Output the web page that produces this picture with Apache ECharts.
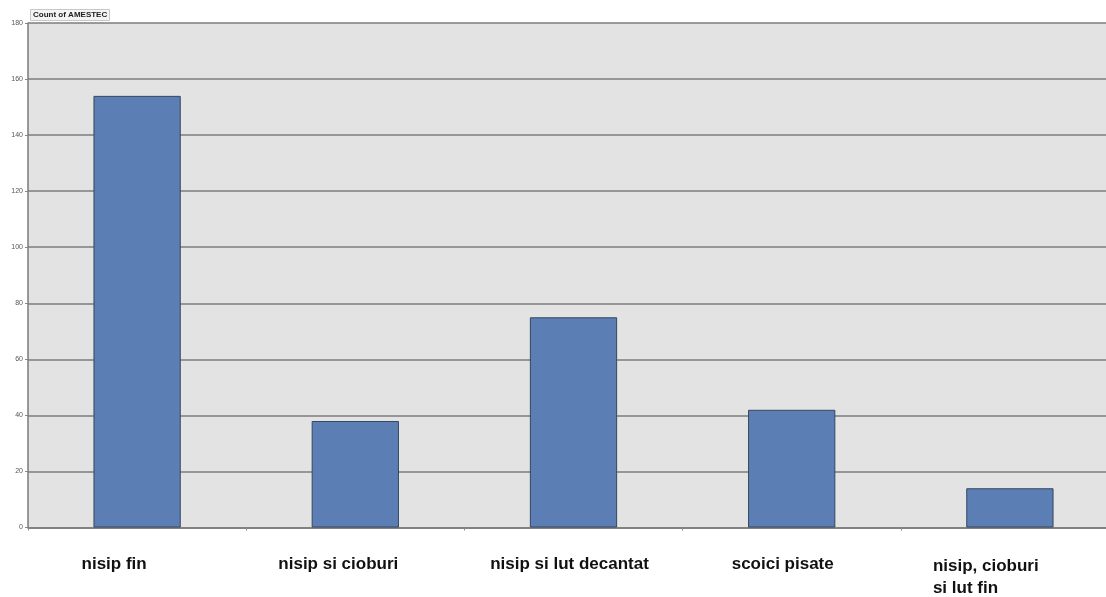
<!DOCTYPE html>
<html>
<head>
<meta charset="utf-8">
<script src="https://cdn.jsdelivr.net/npm/echarts@6/dist/echarts.min.js"></script>
<style>
html,body{margin:0;padding:0;background:#fff;overflow:hidden;width:1106px;height:597px;}
#chart{width:1120px;height:597px;}
</style>
</head>
<body>
<div id="chart"></div>
<script>
const categories = ["nisip fin", "nisip si cioburi", "nisip si lut decantat", "scoici pisate", "nisip, cioburi\nsi lut fin"];
const counts = [154, 38, 75, 42, 14];
const fieldTitle = "Count of AMESTEC";

const labelFont = {fontFamily: 'Liberation Sans', fontSize: 17, fontWeight: 'bold', color: '#111'};
const chart = echarts.init(document.getElementById('chart'), null, {renderer: 'canvas'});
chart.setOption({
  animation: false,
  backgroundColor: '#ffffff',
  title: {
    text: fieldTitle,
    left: 30, top: 9,
    padding: [2, 3, 2, 3],
    backgroundColor: '#f4f4f4',
    borderColor: '#c8c8c8',
    borderWidth: 1,
    textStyle: {fontFamily: 'Liberation Sans', fontSize: 8, fontWeight: 'bold', color: '#222'}
  },
  grid: {left: 28, top: 23, width: 1091, height: 507, show: true, backgroundColor: '#e3e3e3', borderWidth: 0},
  xAxis: {
    type: 'category',
    data: categories,
    axisLine: {lineStyle: {color: '#7a7a7a', width: 1.5}},
    axisTick: {show: true, length: 3, lineStyle: {color: '#888'}},
    axisLabel: {
      margin: 28,
      interval: 0,
      formatter: function (v, i) { return '{c' + i + '|' + v + '}'; },
      rich: {
        c0: Object.assign({}, labelFont, {padding: [0, 46, 0, 0]}),
        c1: Object.assign({}, labelFont, {padding: [0, 34, 0, 0]}),
        c2: Object.assign({}, labelFont, {padding: [0, 8, 0, 0]}),
        c3: Object.assign({}, labelFont, {padding: [0, 18, 0, 0]}),
        c4: Object.assign({}, labelFont, {align: 'left', width: 120, lineHeight: 22, padding: [0, 34, 0, 0]})
      }
    }
  },
  yAxis: {
    type: 'value',
    min: 0, max: 180, interval: 20,
    axisLine: {show: true, lineStyle: {color: '#7a7a7a', width: 1.5}},
    axisTick: {show: true, length: 3, lineStyle: {color: '#888'}},
    axisLabel: {fontFamily: 'Liberation Sans', fontSize: 7, color: '#555', margin: 5},
    splitLine: {lineStyle: {color: '#7d7d7d', width: 1.5}}
  },
  series: [{
    type: 'bar',
    data: counts,
    barWidth: '40%',
    itemStyle: {color: '#5b7fb5', borderColor: '#36465e', borderWidth: 1}
  }]
});
</script>
</body>
</html>
